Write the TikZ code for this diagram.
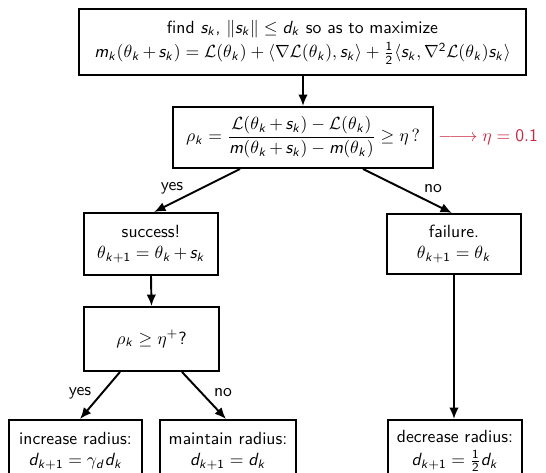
\documentclass[tikz,border=0pt]{standalone}
\usepackage{amsmath}
\usetikzlibrary{arrows.meta}
\renewcommand\familydefault{\sfdefault}
% sans-serif slanted letters and upright sans digits in math
\DeclareSymbolFont{sfit}{OT1}{cmss}{m}{sl}
\DeclareSymbolFont{sfup}{OT1}{cmss}{m}{n}
\newcommand\sfletter[1]{\DeclareMathSymbol{#1}{\mathalpha}{sfit}{`#1}}
\newcommand\sfdigit[1]{\DeclareMathSymbol{#1}{\mathalpha}{sfup}{`#1}}
\sfletter a\sfletter b\sfletter c\sfletter d\sfletter e\sfletter f\sfletter g
\sfletter h\sfletter i\sfletter j\sfletter k\sfletter l\sfletter m\sfletter n
\sfletter o\sfletter p\sfletter q\sfletter r\sfletter s\sfletter t\sfletter u
\sfletter v\sfletter w\sfletter x\sfletter y\sfletter z
\sfdigit 0\sfdigit 1\sfdigit 2\sfdigit 3\sfdigit 4\sfdigit 5\sfdigit 6
\sfdigit 7\sfdigit 8\sfdigit 9
\definecolor{etared}{RGB}{200,40,65}
\newcommand\pxu{0.567pt}
\newcommand\tplus{\mkern-1.5mu+\mkern-1.5mu}
\begin{document}
\begin{tikzpicture}[x=0.567pt,y=-0.567pt,
  box/.style={draw,line width=1.1pt,align=center,inner sep=2pt,font=\normalsize},
  flow/.style={line width=1.1pt,-{Latex[length=6.5pt,width=5.4pt]}},
  lbl/.style={inner sep=0pt,font=\normalsize}]
\useasboundingbox (0,0) rectangle (546,473);

% problem and acceptance test
\node[box,minimum width=447*\pxu,minimum height=66*\pxu] (top) at (302.5,42)
  {find $s_k$, $\|s_k\|\le d_k$ so as to maximize\\[2pt]
   $m_k(\theta_k\tplus s_k)=\mathcal{L}(\theta_k)+\langle\nabla\mathcal{L}(\theta_k),s_k\rangle
    +\tfrac{1}{2}\langle s_k,\nabla^2\mathcal{L}(\theta_k)s_k\rangle$};
\node[box,minimum width=260*\pxu,minimum height=61*\pxu] (rho) at (303,137.5)
  {$\rho_k=\dfrac{\mathcal{L}(\theta_k\tplus s_k)-\mathcal{L}(\theta_k)}{m(\theta_k\tplus s_k)-m(\theta_k)}\ge\eta\,?$};
\node[anchor=west,text=etared,inner sep=0pt] (etaval) at (438,137.5)
  {$\relbar\joinrel\longrightarrow\eta=0.1$};

% outcome of the test
\node[box,minimum width=134*\pxu,minimum height=62*\pxu] (succ) at (151,244)
  {success!\\$\theta_{k+1}=\theta_k\tplus s_k$};
\node[box,minimum width=134*\pxu,minimum height=60*\pxu] (fail) at (454,244)
  {failure.\\$\theta_{k+1}=\theta_k$};
\node[box,minimum width=134.5*\pxu,minimum height=64*\pxu] (rhoplus) at (151.5,339)
  {$\rho_k\ge\eta^+$?};

% radius updates
\node[box,minimum width=133*\pxu,minimum height=62*\pxu] (inc) at (75.5,451)
  {increase radius:\\$d_{k+1}=\gamma_d d_k$};
\node[box,minimum width=136*\pxu,minimum height=62*\pxu] (keep) at (228,451)
  {maintain radius:\\$d_{k+1}=d_k$};
\node[box,minimum width=134*\pxu,minimum height=62*\pxu] (dec) at (455,451)
  {decrease radius:\\[1pt]$d_{k+1}=\tfrac{1}{2}d_k$};

% connectors
\draw[flow] (top.south -| rho.north) -- (rho.north);
\draw[flow] ([xshift=-63*\pxu]rho.south) -- ([xshift=3*\pxu]succ.north);
\draw[flow] ([xshift=60*\pxu]rho.south) -- ([xshift=-2*\pxu]fail.north);
\draw[flow] (succ.south) -- (rhoplus.north);
\draw[flow] (fail.south) -- (fail.south |- dec.north);
\draw[flow] ([xshift=-31.5*\pxu]rhoplus.south) -- ([xshift=4.5*\pxu]inc.north);
\draw[flow] ([xshift=30.5*\pxu]rhoplus.south) -- ([xshift=-2*\pxu]keep.north);

% branch labels
\node[lbl] (yes1) at (172,188) {yes};
\node[lbl] (no1) at (433,189) {no};
\node[lbl] (yes2) at (80,393) {yes};
\node[lbl] (no2) at (223,393) {no};
\end{tikzpicture}
\end{document}
